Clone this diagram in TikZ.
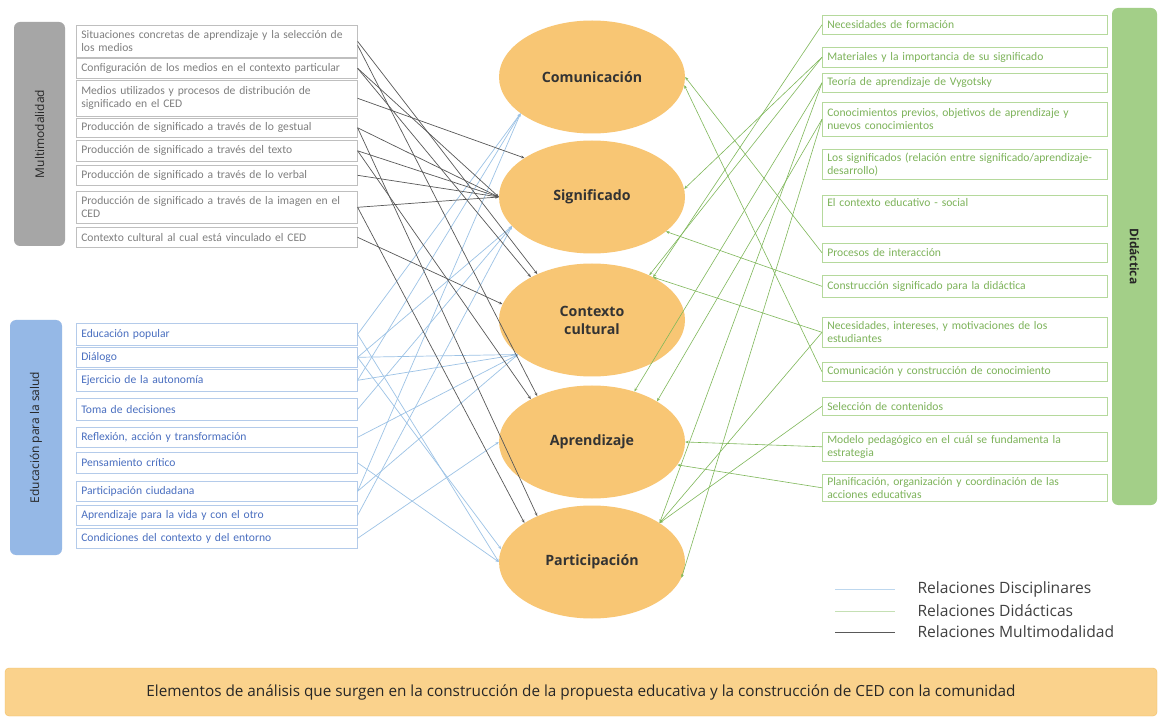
\documentclass[tikz,border=0pt]{standalone}
\usepackage{fontspec}
\setmainfont{Carlito}
\newfontfamily\osans{Open Sans}
\usetikzlibrary{shapes.geometric,arrows.meta}
\definecolor{ellfill}{HTML}{F8C674}
\definecolor{barfill}{HTML}{FAD28C}
\definecolor{barline}{HTML}{F2BE62}
\definecolor{mtext}{HTML}{7F7F7F}
\definecolor{mline}{HTML}{BFBFBF}
\definecolor{etext}{HTML}{4A6FC0}
\definecolor{eline}{HTML}{B4CBEA}
\definecolor{dtext}{HTML}{7DB35A}
\definecolor{dline}{HTML}{B5D99C}
\definecolor{darkrel}{HTML}{595959}
\definecolor{bluerel}{HTML}{9DC3E6}
\definecolor{greenrel}{HTML}{7FB85A}
\definecolor{legblue}{HTML}{BDD7EE}
\definecolor{leggreen}{HTML}{C5E0B4}
\definecolor{graytab}{HTML}{A6A6A6}
\definecolor{bluetab}{HTML}{95B8E6}
\definecolor{greentab}{HTML}{A3CF88}
\tikzset{
  lbox/.style={draw, line width=0.6pt, rectangle, anchor=north west, align=left,
    inner xsep=5pt, inner ysep=2pt, font=\fontsize{11.6}{12.8}\selectfont},
  mbox/.style={lbox, draw=mline, text=mtext, text width=271pt},
  ebox/.style={lbox, draw=eline, text=etext, text width=271pt},
  dbox/.style={lbox, draw=dline, text=dtext, text width=275pt},
  concept/.style={ellipse, fill=ellfill, minimum width=186pt, minimum height=113pt,
    align=center, text=black!80, font=\osans\fontsize{14.2}{18}\selectfont\bfseries, inner sep=0pt},
  tab/.style={rounded corners=6pt, inner sep=0pt, text=black!85,
    font=\osans\fontsize{12}{14}\selectfont},
  tip/.style={-{Stealth[length=3.5pt,width=2.8pt]}},
  multirel/.style={tip, draw=darkrel, line width=0.7pt},
  discrel/.style={tip, draw=bluerel, line width=0.7pt},
  didrel/.style={tip, draw=greenrel, line width=0.6pt},
  legtext/.style={anchor=west, text=black!75, font=\osans\fontsize{15.6}{17}\selectfont}
}
\begin{document}
\begin{tikzpicture}[x=1pt,y=-1pt]
\useasboundingbox (0,0) rectangle (1160,719);
\fill[white] (0,0) rectangle (1160,719);

% side tabs
\node[tab, fill=graytab, rotate=90, minimum width=224pt, minimum height=51pt] (tm) at (39.5,134) {Multimodalidad};
\node[tab, fill=bluetab, rotate=90, minimum width=235pt, minimum height=52pt] (te) at (36,437.5) {Educación para la salud};
\node[tab, fill=greentab, rotate=-90, minimum width=497pt, minimum height=45pt] (td) at (1134.5,256.5) {\bfseries Didáctica};

% Multimodalidad boxes
\node[mbox, minimum height=32pt] (s1) at (76,25) {Situaciones concretas de aprendizaje y la selección de\\los medios};
\node[mbox, minimum height=20pt] (s2) at (76,58) {Configuración de los medios en el contexto particular};
\node[mbox, minimum height=36pt] (s3) at (76,80) {Medios utilizados y procesos de distribución de\\significado en el CED};
\node[mbox, minimum height=19pt] (s4) at (76,118) {Producción de significado a través de lo gestual};
\node[mbox, minimum height=21pt] (s5) at (76,140) {Producción de significado a través del texto};
\node[mbox, minimum height=20pt] (s6) at (76,165) {Producción de significado a través de lo verbal};
\node[mbox, minimum height=32pt] (s7) at (76,191) {Producción de significado a través de la imagen en el\\CED};
\node[mbox, minimum height=20pt] (s8) at (76,227) {Contexto cultural al cual está vinculado el CED};

% Educacion boxes
\node[ebox, minimum height=22pt] (e1) at (76,323) {Educación popular};
\node[ebox, minimum height=20pt] (e2) at (76,347) {Diálogo};
\node[ebox, minimum height=22pt] (e3) at (76,369) {Ejercicio de la autonomía};
\node[ebox, minimum height=22pt] (e4) at (76,398) {Toma de decisiones};
\node[ebox, minimum height=20pt] (e5) at (76,427) {Reflexión, acción y transformación};
\node[ebox, minimum height=21pt] (e6) at (76,452) {Pensamiento crítico};
\node[ebox, minimum height=20pt] (e7) at (76,481) {Participación ciudadana};
\node[ebox, minimum height=20pt] (e8) at (76,505) {Aprendizaje para la vida y con el otro};
\node[ebox, minimum height=20pt] (e9) at (76,528) {Condiciones del contexto y del entorno};

% Didactica boxes
\node[dbox, minimum height=19pt] (d1) at (822,15) {Necesidades de formación};
\node[dbox, minimum height=20pt] (d2) at (822,47) {Materiales y la importancia de su significado};
\node[dbox, minimum height=19pt] (d3) at (822,73) {Teoría de aprendizaje de Vygotsky};
\node[dbox, minimum height=34pt] (d4) at (822,102) {Conocimientos previos, objetivos de aprendizaje y\\nuevos conocimientos};
\node[dbox, minimum height=30pt] (d5) at (822,149) {Los significados (relación entre significado/aprendizaje-\\desarrollo)};
\node[dbox, minimum height=31pt] (d6) at (822,195) {El contexto educativo - social\\\strut};
\node[dbox, minimum height=19pt] (d7) at (822,243) {Procesos de interacción};
\node[dbox, minimum height=22pt] (d8) at (822,275) {Construcción significado para la didáctica};
\node[dbox, minimum height=30pt] (d9) at (822,317) {Necesidades, intereses, y motivaciones de los\\estudiantes};
\node[dbox, minimum height=19pt] (d10) at (822,362) {Comunicación y construcción de conocimiento};
\node[dbox, minimum height=18pt] (d11) at (822,397) {Selección de contenidos};
\node[dbox, minimum height=29pt] (d12) at (822,432) {Modelo pedagógico en el cuál se fundamenta la\\estrategia};
\node[dbox, minimum height=27pt] (d13) at (822,474) {Planificación, organización y coordinación de las\\acciones educativas};

% concepts
\node[concept] (com) at (592,77) {Comunicación};
\node[concept] (sig) at (592,197) {Significado};
\node[concept] (ctx) at (592,320) {Contexto\\cultural};
\node[concept] (apr) at (592,442) {Aprendizaje};
\node[concept] (par) at (592,562) {Participación};

% disciplinary relations (blue)
\draw[discrel] (e1.east) -- (com.207);
\draw[discrel] (e1.east) -- (par.west);
\draw[discrel] (e2.east) -- (ctx.205);
\draw[discrel] (e2.east) -- (sig.200);
\draw[discrel] (e2.east) -- (par.172);
\draw[discrel] (e3.east) -- (ctx.205);
\draw[discrel] (e3.east) -- (com.207);
\draw[discrel] (e4.east) -- (sig.200);
\draw[discrel] (e5.east) -- (ctx.205);
\draw[discrel] (e6.east) -- (par.west);
\draw[discrel] (e7.east) -- (com.207);
\draw[discrel] (e7.east) -- (ctx.205);
\draw[discrel] (e8.east) -- (sig.200);
\draw[discrel] (e9.east) -- (apr.west);

% multimodality relations (dark)
\draw[multirel] (s1.east) -- (ctx.140);
\draw[multirel] ([yshift=-4pt]s1.east) -- (apr.140);
\draw[multirel] (s2.east) -- (sig.west);
\draw[multirel] (s2.east) -- (ctx.145);
\draw[multirel] (s3.east) -- (sig.150);
\draw[multirel] (s4.east) -- (sig.west);
\draw[multirel] (s4.east) -- (par.140);
\draw[multirel] (s5.east) -- (sig.west);
\draw[multirel] (s5.east) -- (apr.145);
\draw[multirel] (s6.east) -- (sig.west);
\draw[multirel] (s7.east) -- (sig.west);
\draw[multirel] (s7.east) -- (par.150);
\draw[multirel] (s8.east) -- (ctx.170);

% didactic relations (green)
\draw[didrel] (d1.west) -- (ctx.35);
\draw[didrel] (d2.west) -- (sig.5);
\draw[didrel] (d2.west) -- (ctx.38);
\draw[didrel] (d3.west) -- (apr.50);
\draw[didrel] (d3.west) -- (par.30);
\draw[didrel] (d4.west) -- (apr.32);
\draw[didrel] (d4.west) -- (par.350);
\draw[didrel] (d7.west) -- (com.east);
\draw[didrel] (d10.west) -- (com.355);
\draw[didrel] (d8.west) -- (sig.335);
\draw[didrel] (d9.west) -- (ctx.35);
\draw[didrel] (d9.west) -- (par.30);
\draw[didrel] (d11.west) -- (par.30);
\draw[didrel] (d12.west) -- (apr.east);
\draw[didrel] (d13.west) -- (apr.345);

% legend
\coordinate (l1a) at (835,589); \coordinate (l1b) at (895,589);
\coordinate (l2a) at (835,611); \coordinate (l2b) at (895,611);
\coordinate (l3a) at (835,632); \coordinate (l3b) at (895,632);
\draw[draw=legblue, line width=0.9pt] (l1a) -- (l1b);
\draw[draw=leggreen, line width=0.9pt] (l2a) -- (l2b);
\draw[draw=darkrel, line width=0.9pt] (l3a) -- (l3b);
\node[legtext] (lg1) at (914,589) {Relaciones Disciplinares};
\node[legtext] (lg2) at (914,611) {Relaciones Didácticas};
\node[legtext] (lg3) at (914,632) {Relaciones Multimodalidad};

% bottom bar
\node[draw=barline, fill=barfill, rounded corners=4pt, minimum width=1152pt, minimum height=48pt,
  text=black!85, font=\osans\fontsize{15.3}{17}\selectfont] (bar) at (581,692)
  {Elementos de análisis que surgen en la construcción de la propuesta educativa y la construcción de CED con la comunidad};
\end{tikzpicture}
\end{document}
